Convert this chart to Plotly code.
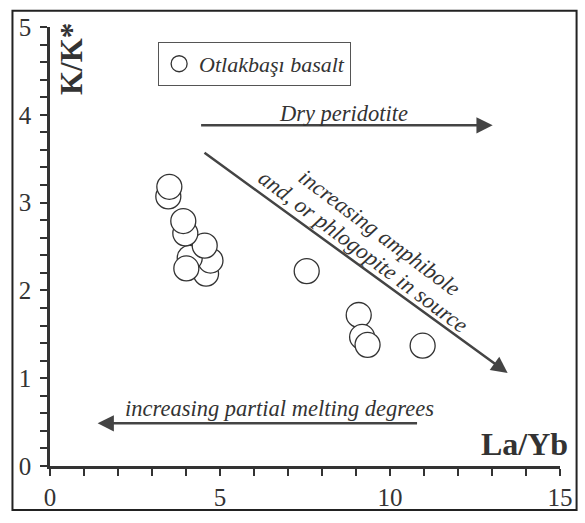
import plotly.graph_objects as go

# ---- data ----
la_yb = [4.59, 4.72, 4.11, 4.01, 4.55, 3.98, 3.92, 3.48, 3.51, 7.55, 9.08, 9.18, 9.34, 10.96]
k_kstar = [2.19, 2.34, 2.37, 2.25, 2.51, 2.65, 2.79, 3.07, 3.18, 2.22, 1.72, 1.47, 1.38, 1.37]
series_name = "Otlakbaşı basalt"

x_tickvals = list(range(0, 16))
x_ticktext = [str(v) if v % 5 == 0 else "" for v in x_tickvals]
y_tickvals = [round(i * 0.2, 1) for i in range(0, 26)]
y_ticktext = [str(int(v)) if abs(v - round(v)) < 1e-9 else "" for v in y_tickvals]

SERIF = "Liberation Serif, Times New Roman, serif"
INK = "#333333"
ARROW = "#444444"

fig = go.Figure()
fig.add_trace(go.Scatter(
    x=la_yb, y=k_kstar, mode="markers", name=series_name,
    marker=dict(symbol="circle", size=25, color="white",
                line=dict(color=INK, width=1.3)),
    showlegend=True,
))

fig.update_layout(
    width=585, height=523,
    margin=dict(l=50, r=19, t=27, b=40),
    paper_bgcolor="white", plot_bgcolor="white",
    font=dict(family=SERIF, color=INK),
    showlegend=True,
    legend=dict(
        x=0.212, y=0.966, xanchor="left", yanchor="top",
        bgcolor="white", bordercolor="#555555", borderwidth=1,
        font=dict(family=SERIF, size=22, color=INK, style="italic"),
        itemsizing="trace", tracegroupgap=0,
    ),
    xaxis=dict(
        range=[0, 15], showgrid=False, zeroline=False,
        showline=True, linecolor=INK, linewidth=2.5,
        ticks="outside", ticklen=7, tickwidth=2, tickcolor=INK,
        tickvals=x_tickvals, ticktext=x_ticktext,
        tickfont=dict(family=SERIF, size=25, color=INK),
    ),
    yaxis=dict(
        range=[0, 5], showgrid=False, zeroline=False,
        showline=True, linecolor=INK, linewidth=2.5,
        ticks="outside", ticklen=7, tickwidth=2, tickcolor=INK,
        tickvals=y_tickvals, ticktext=y_ticktext,
        tickfont=dict(family=SERIF, size=25, color=INK),
        ticklabelstandoff=4,
    ),
)

# outer frame
fig.add_shape(type="rect", xref="paper", yref="paper",
              x0=-0.0736, x1=1.0325, y0=-0.1, y1=1.037,
              line=dict(color="#222222", width=2), layer="below")

# axis titles
fig.add_annotation(x=0.63, y=4.64, xref="x", yref="y", text="<b>K/K*</b>",
                   textangle=-90, showarrow=False,
                   font=dict(family=SERIF, size=31, color=INK))
fig.add_annotation(x=1.019, y=0.005, xref="paper", yref="paper", text="<b>La/Yb</b>",
                   xanchor="right", yanchor="bottom", showarrow=False,
                   font=dict(family=SERIF, size=32, color=INK))

# arrows
def arrow(x0, y0, x1, y1):
    fig.add_annotation(x=x1, y=y1, ax=x0, ay=y0, xref="x", yref="y",
                       axref="x", ayref="y", text="", showarrow=True,
                       arrowhead=2, arrowsize=1.3, arrowwidth=2.5,
                       arrowcolor=ARROW, standoff=0, startstandoff=0)

arrow(4.40, 3.88, 13.02, 3.88)
arrow(4.50, 3.58, 13.46, 1.06)
arrow(10.84, 0.486, 1.40, 0.486)

itfont = dict(family=SERIF, size=22.5, color=INK, style="italic")
fig.add_annotation(x=8.62, y=4.02, xref="x", yref="y", text="Dry peridotite",
                   showarrow=False, font=itfont)
fig.add_annotation(x=6.76, y=0.657, xref="x", yref="y",
                   text="increasing partial melting degrees",
                   showarrow=False, font=itfont)
fig.add_annotation(x=9.68, y=2.657, xref="x", yref="y", text="increasing amphibole",
                   textangle=36.8, showarrow=False, font=itfont)
fig.add_annotation(x=9.22, y=2.446, xref="x", yref="y", text="and, or phlogopite in source",
                   textangle=36.8, showarrow=False, font=itfont)

fig.write_html("out.html")
